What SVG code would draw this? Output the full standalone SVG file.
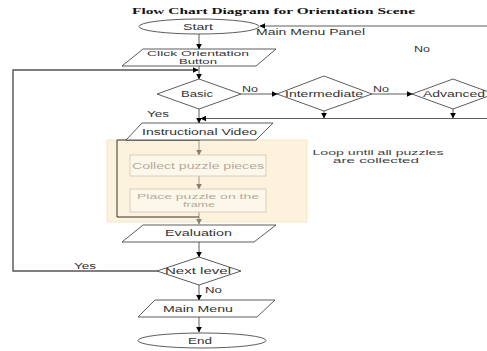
<svg xmlns="http://www.w3.org/2000/svg" width="487" height="351" viewBox="0 0 487 351">
<defs>
<marker id="ah" viewBox="0 0 10 10" refX="9" refY="5" markerWidth="6" markerHeight="6" orient="auto" markerUnits="userSpaceOnUse"><path d="M0,0 L10,5 L0,10 z" fill="#000"/></marker>
<marker id="ahg" viewBox="0 0 10 10" refX="9" refY="5" markerWidth="6" markerHeight="6" orient="auto" markerUnits="userSpaceOnUse"><path d="M0,0 L10,5 L0,10 z" fill="#8a8070"/></marker>
</defs>
<style>
.sh{fill:#fff;stroke:#333;stroke-width:0.8}
.t{font-family:"Liberation Sans",Arial,sans-serif;font-size:8.5px;fill:#333;text-anchor:middle}
.t2{font-family:"Liberation Sans",Arial,sans-serif;font-size:7.8px;fill:#333;text-anchor:middle}
.tl{font-family:"Liberation Sans",Arial,sans-serif;font-size:8.5px;fill:#333}
.g{fill:#fdf7ea;stroke:#cfc6b8;stroke-width:0.8}
.gt{font-family:"Liberation Sans",Arial,sans-serif;font-size:8.5px;fill:#b3aa9c;text-anchor:middle}
.gt2{font-family:"Liberation Sans",Arial,sans-serif;font-size:7.8px;fill:#b3aa9c;text-anchor:middle}
.c{fill:none;stroke:#333;stroke-width:0.8}
.cg{fill:none;stroke:#8a8070;stroke-width:0.8}
</style>
<rect width="487" height="351" fill="#fff"/>
<text x="132" y="14" textLength="283" lengthAdjust="spacingAndGlyphs" style="font-family:'Liberation Serif',serif;font-weight:bold;font-size:9px;fill:#111">Flow Chart Diagram for Orientation Scene</text>
<g id="loop-area">
<rect x="107" y="140" width="200" height="82" fill="#fdf2dc" stroke="#f2e2c2" stroke-width="0.8"/>
</g>
<g id="connectors">
<line class="c" x1="199" y1="34" x2="199" y2="49" marker-end="url(#ah)"/>
<line class="c" x1="487" y1="26" x2="260" y2="26" marker-end="url(#ah)"/>
<line class="c" x1="199" y1="66" x2="199" y2="79" marker-end="url(#ah)"/>
<polyline points="157,271 13,271 13,70 198,70" fill="none" stroke="#555" stroke-width="1.4" marker-end="url(#ah)"/>
<line class="c" x1="241" y1="94" x2="277" y2="94" marker-end="url(#ah)"/>
<line class="c" x1="372" y1="94" x2="412" y2="94" marker-end="url(#ah)"/>
<line class="c" x1="199" y1="109" x2="199" y2="123" marker-end="url(#ah)"/>
<line class="c" x1="324" y1="111" x2="324" y2="118" marker-end="url(#ah)"/>
<line class="c" x1="453" y1="109" x2="453" y2="118" marker-end="url(#ah)"/>
<line class="c" x1="487" y1="118.5" x2="201" y2="118.5" marker-end="url(#ah)"/>
<line class="cg" x1="199" y1="140" x2="199" y2="155" marker-end="url(#ahg)"/>
<line class="cg" x1="199" y1="176" x2="199" y2="189" marker-end="url(#ahg)"/>
<line class="cg" x1="199" y1="212" x2="199" y2="224" marker-end="url(#ahg)"/>
<polyline points="199,140 117,140 117,217 199,217" fill="none" stroke="#333" stroke-width="1"/>
<line class="c" x1="199" y1="242" x2="199" y2="257" marker-end="url(#ah)"/>
<line class="c" x1="199" y1="285" x2="199" y2="300" marker-end="url(#ah)"/>
<line class="c" x1="199" y1="317" x2="199" y2="332" marker-end="url(#ah)"/>
<text class="tl" x="256" y="35" textLength="109" lengthAdjust="spacingAndGlyphs">Main Menu Panel</text>
<text class="tl" x="414" y="52" textLength="16" lengthAdjust="spacingAndGlyphs">No</text>
<text class="tl" x="242" y="92" textLength="16" lengthAdjust="spacingAndGlyphs">No</text>
<text class="tl" x="373" y="92" textLength="16" lengthAdjust="spacingAndGlyphs">No</text>
<text class="tl" x="147" y="117" textLength="22" lengthAdjust="spacingAndGlyphs">Yes</text>
<text class="tl" x="74" y="269" textLength="22" lengthAdjust="spacingAndGlyphs">Yes</text>
<text class="tl" x="205" y="293" textLength="17" lengthAdjust="spacingAndGlyphs">No</text>
<text x="378" y="155" textLength="131" lengthAdjust="spacingAndGlyphs" style="font-family:'Liberation Sans',Arial,sans-serif;font-size:7.5px;fill:#444;text-anchor:middle">Loop until all puzzles</text>
<text x="376" y="162.5" textLength="86" lengthAdjust="spacingAndGlyphs" style="font-family:'Liberation Sans',Arial,sans-serif;font-size:7.5px;fill:#444;text-anchor:middle">are collected</text>
</g>
<g id="start">
<ellipse class="sh" cx="199" cy="26.5" rx="60" ry="7.5"/>
<text class="t" x="198" y="29.5" textLength="30" lengthAdjust="spacingAndGlyphs">Start</text>
</g>
<g id="click-orientation">
<polygon class="sh" points="143,49 276,49 256,66 122,66"/>
<text class="t2" x="198" y="56" textLength="102" lengthAdjust="spacingAndGlyphs">Click Orientation</text>
<text class="t2" x="198" y="64" textLength="38" lengthAdjust="spacingAndGlyphs">Button</text>
</g>
<g id="basic">
<polygon class="sh" points="199,79 241,94 199,109 157,94"/>
<text class="t" x="197" y="97" textLength="32" lengthAdjust="spacingAndGlyphs">Basic</text>
</g>
<g id="intermediate">
<polygon class="sh" points="324,76 372,94 324,111 277,94"/>
<text class="t" x="324" y="97" textLength="78" lengthAdjust="spacingAndGlyphs">Intermediate</text>
</g>
<g id="advanced">
<polygon class="sh" points="453,79 494,94 453,109 412,94"/>
<text class="t" x="454" y="97" textLength="62" lengthAdjust="spacingAndGlyphs">Advanced</text>
</g>
<g id="instructional-video">
<polygon class="sh" points="142,123 273,123 256,140 126,140"/>
<text class="t" x="199.5" y="134.5" textLength="115" lengthAdjust="spacingAndGlyphs">Instructional Video</text>
</g>
<g id="collect">
<rect class="g" x="130" y="155" width="136" height="21"/>
<text class="gt" x="198" y="168.5" textLength="132" lengthAdjust="spacingAndGlyphs">Collect puzzle pieces</text>
</g>
<g id="place">
<rect class="g" x="130" y="189" width="136" height="23"/>
<text class="gt2" x="198" y="198.5" textLength="122" lengthAdjust="spacingAndGlyphs">Place puzzle on the</text>
<text class="gt2" x="199" y="207" textLength="32" lengthAdjust="spacingAndGlyphs">frame</text>
</g>
<g id="evaluation">
<polygon class="sh" points="143,225 276,225 254,242 122,242"/>
<text class="t" x="198.5" y="236" textLength="67" lengthAdjust="spacingAndGlyphs">Evaluation</text>
</g>
<g id="next-level">
<polygon class="sh" points="199,257 241,271 199,285 157,271"/>
<text class="t" x="198" y="274" textLength="66" lengthAdjust="spacingAndGlyphs">Next level</text>
</g>
<g id="main-menu">
<polygon class="sh" points="155,300 275,300 257,317 138,317"/>
<text class="t" x="198" y="311.5" textLength="70" lengthAdjust="spacingAndGlyphs">Main Menu</text>
</g>
<g id="end">
<ellipse class="sh" cx="202" cy="340.5" rx="64" ry="7.5"/>
<text class="t" x="200" y="343.5" textLength="24" lengthAdjust="spacingAndGlyphs">End</text>
</g>
</svg>
